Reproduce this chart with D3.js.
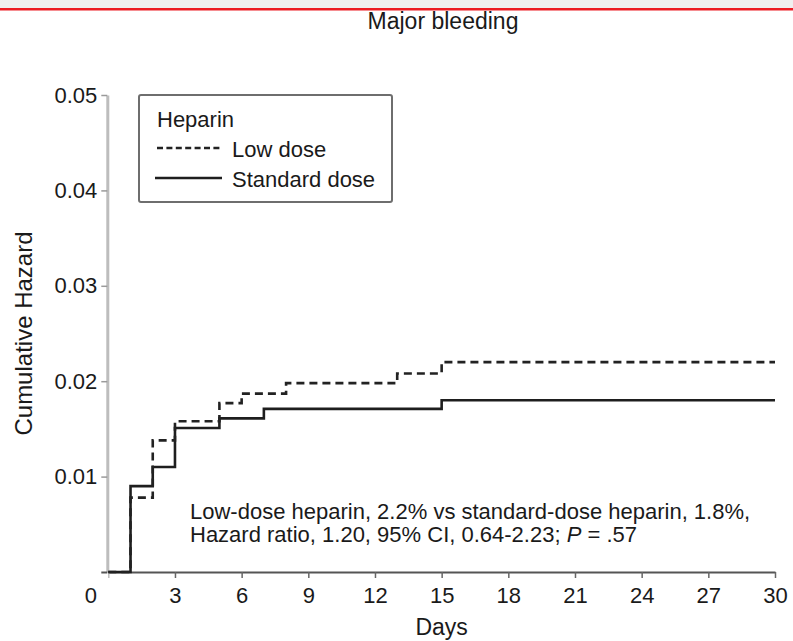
<!DOCTYPE html>
<html>
<head>
<meta charset="utf-8">
<script src="https://cdn.jsdelivr.net/npm/d3@7"></script>
<style>
  html, body { margin: 0; padding: 0; background: #fff; }
  svg { display: block; }
  text { font-family: "Liberation Sans", Arial, Helvetica, sans-serif; fill: #1a1a1a; }
</style>
</head>
<body>
<svg id="chart" width="793" height="641"></svg>
<script>
// Cumulative hazard of major bleeding by heparin dose (step functions)
const lowDays     = [0, 1, 2, 3, 5, 6, 8, 13, 15, 30];
const lowHazard   = [0, 0.0078, 0.0138, 0.0158, 0.0177, 0.0187, 0.0198, 0.0208, 0.022, 0.022];
const stdDays     = [0, 1, 2, 3, 5, 7, 15, 30];
const stdHazard   = [0, 0.009, 0.011, 0.0151, 0.0161, 0.0171, 0.018, 0.018];

const xTicks = [0, 3, 6, 9, 12, 15, 18, 21, 24, 27, 30];
const yTicks = [0, 0.01, 0.02, 0.03, 0.04, 0.05];

const titleText = "Major bleeding";
const xLabel = "Days";
const yLabel = "Cumulative Hazard";
const legendTitle = "Heparin";
const seriesNames = ["Low dose", "Standard dose"];
const noteLine1 = "Low-dose heparin, 2.2% vs standard-dose heparin, 1.8%,";
const noteLine2a = "Hazard ratio, 1.20, 95% CI, 0.64-2.23; ";
const noteLine2b = "P";
const noteLine2c = " = .57";

const svg = d3.select("#chart");

// page header strip
svg.append("rect").attr("x", 0).attr("y", 0).attr("width", 793).attr("height", 8).attr("fill", "#f0f0f0");
svg.append("rect").attr("x", 0).attr("y", 8).attr("width", 793).attr("height", 2.5).attr("fill", "#ec1c24");

const x = d3.scaleLinear().domain([0, 30]).range([108.3, 775]);
const y = d3.scaleLinear().domain([0, 0.05]).range([572, 95]);

// title
svg.append("text").attr("x", 443).attr("y", 29).attr("text-anchor", "middle")
  .attr("font-size", 23).text(titleText);

// y axis
const yAxis = svg.append("g").attr("transform", `translate(${x(0) - 1},0)`)
  .call(d3.axisLeft(y).tickValues(yTicks).tickSize(6).tickSizeOuter(0).tickPadding(4)
    .tickFormat(d => d === 0 ? "" : d3.format(".2f")(d)));
yAxis.select(".domain").attr("stroke", "#bdbdbd").attr("stroke-width", 3);
yAxis.selectAll(".tick line").attr("stroke", "#9a9a9a").attr("stroke-width", 1.5);
yAxis.selectAll(".tick text").attr("font-size", 22).attr("fill", "#1a1a1a")
  .style("font-family", "'Liberation Sans', Arial, sans-serif");
// bottom tick of y axis joins the x axis line
yAxis.selectAll(".tick").filter(d => d === 0).select("line").attr("stroke", "#555").attr("stroke-width", 2);

// x axis
const xAxis = svg.append("g").attr("transform", `translate(0,${y(0)})`)
  .call(d3.axisBottom(x).tickValues(xTicks).tickSize(6).tickSizeOuter(0).tickPadding(9));
xAxis.select(".domain").attr("stroke", "#555").attr("stroke-width", 2);
xAxis.selectAll(".tick line").attr("stroke", "#666").attr("stroke-width", 1.5);
xAxis.selectAll(".tick text").attr("font-size", 22).attr("fill", "#1a1a1a")
  .style("font-family", "'Liberation Sans', Arial, sans-serif");
xAxis.selectAll(".tick").filter(d => d === 0).select("text").attr("dx", -18);
xAxis.selectAll(".tick").filter(d => d === 0).select("line").attr("stroke", "#bdbdbd");

// axis titles
svg.append("text").attr("x", x(15)).attr("y", 635).attr("text-anchor", "middle")
  .attr("font-size", 23).text(xLabel);
svg.append("text").attr("transform", `translate(32,${(y(0) + y(0.05)) / 2}) rotate(-90)`)
  .attr("text-anchor", "middle").attr("font-size", 24).text(yLabel);

// step lines
const line = d3.line().curve(d3.curveStepAfter).x(d => x(d[0])).y(d => y(d[1]));
const stdData = stdDays.map((d, i) => [d, stdHazard[i]]);
const lowData = lowDays.map((d, i) => [d, lowHazard[i]]);

svg.append("path").datum(stdData).attr("d", line)
  .attr("fill", "none").attr("stroke", "#1e1e1e").attr("stroke-width", 2.6);
svg.append("path").datum(lowData).attr("d", line)
  .attr("fill", "none").attr("stroke", "#222").attr("stroke-width", 2.6)
  .attr("stroke-dasharray", "8,5");

// legend
const lg = svg.append("g");
lg.append("rect").attr("x", 139).attr("y", 95).attr("width", 253).attr("height", 107)
  .attr("rx", 2).attr("fill", "#fff").attr("stroke", "#6e6e6e").attr("stroke-width", 2);
lg.append("text").attr("x", 157).attr("y", 127).attr("font-size", 22).text(legendTitle);
lg.append("line").attr("x1", 157).attr("x2", 222).attr("y1", 148).attr("y2", 148)
  .attr("stroke", "#222").attr("stroke-width", 2.4).attr("stroke-dasharray", "6,3.4");
lg.append("text").attr("x", 232).attr("y", 157).attr("font-size", 22).text(seriesNames[0]);
lg.append("line").attr("x1", 155).attr("x2", 222).attr("y1", 178).attr("y2", 178)
  .attr("stroke", "#1e1e1e").attr("stroke-width", 2.6);
lg.append("text").attr("x", 232).attr("y", 187).attr("font-size", 22).text(seriesNames[1]);

// summary note
svg.append("text").attr("x", 190).attr("y", 519).attr("font-size", 22).text(noteLine1);
const n2 = svg.append("text").attr("x", 190).attr("y", 542).attr("font-size", 22);
n2.append("tspan").text(noteLine2a);
n2.append("tspan").attr("font-style", "italic").text(noteLine2b);
n2.append("tspan").text(noteLine2c);
</script>
</body>
</html>
